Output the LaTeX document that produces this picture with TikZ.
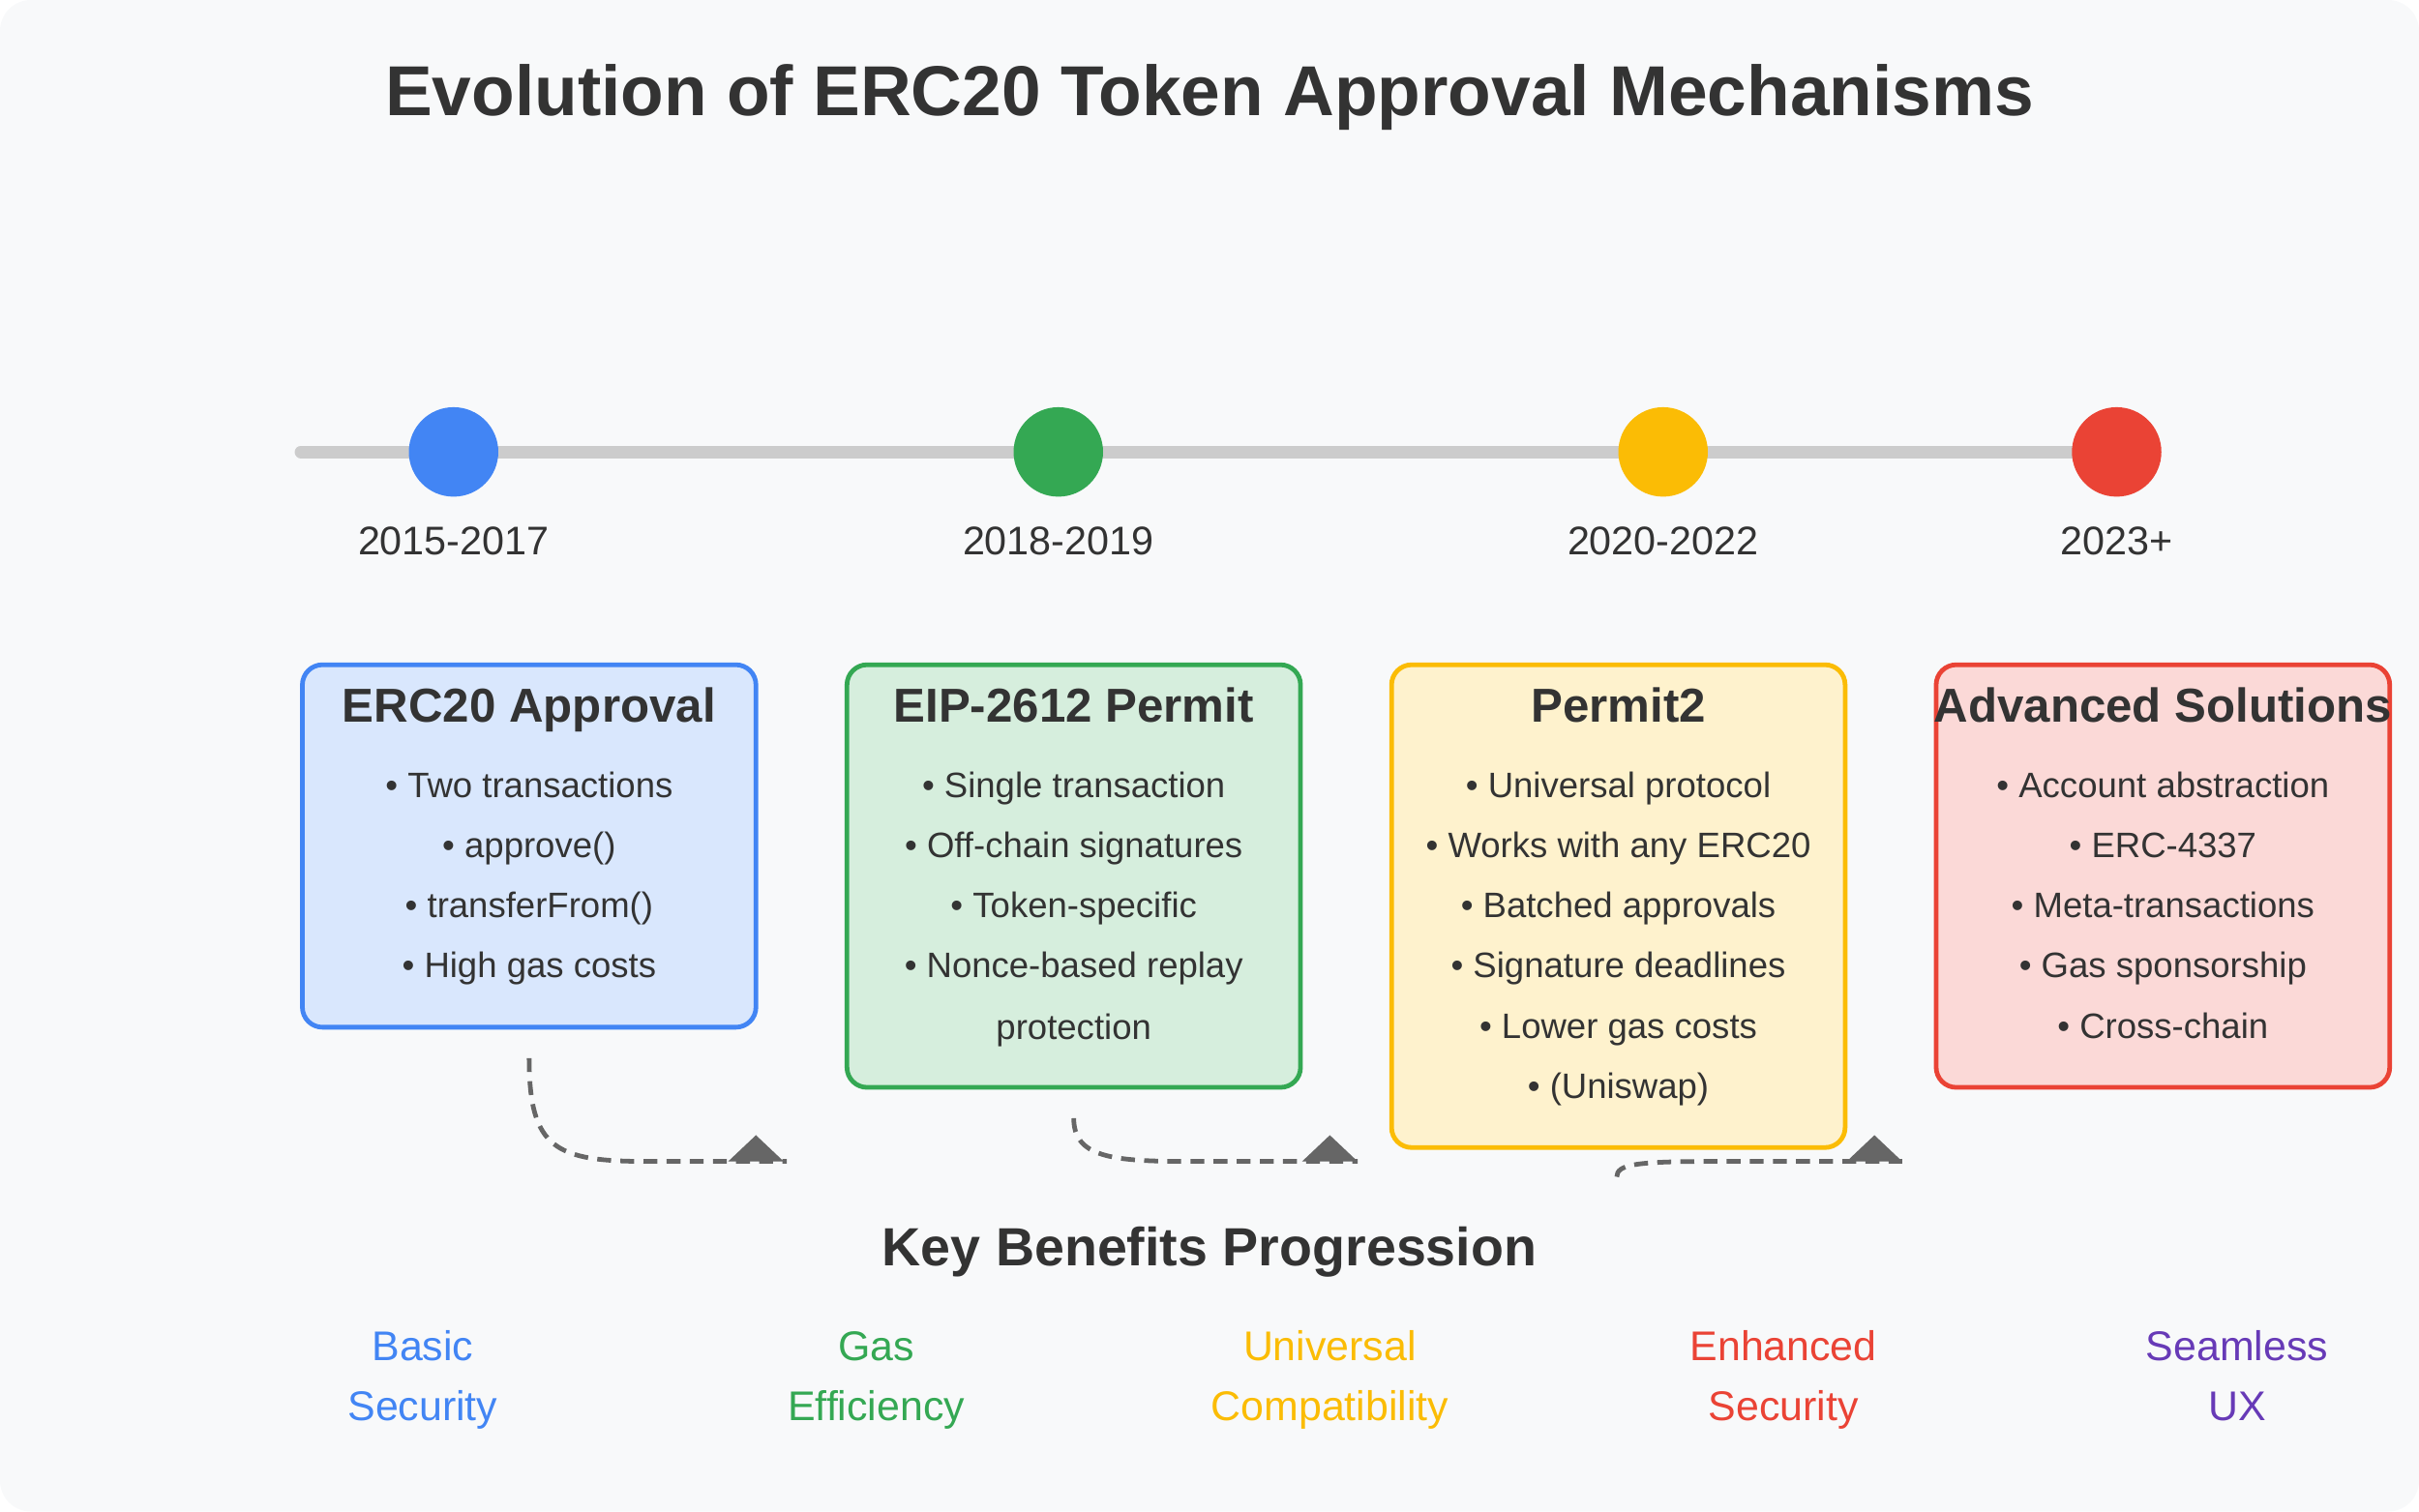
\documentclass[tikz,border=0pt]{standalone}
\usepackage{fontspec}
\setmainfont{Liberation Sans}
\definecolor{bg}{HTML}{F8F9FA}
\definecolor{cb}{HTML}{4285F4}\definecolor{cg}{HTML}{34A853}
\definecolor{cy}{HTML}{FBBC05}\definecolor{cr}{HTML}{EA4335}
\definecolor{cp}{HTML}{673AB7}\definecolor{tx}{HTML}{333333}
\begin{document}
\begin{tikzpicture}[x=1bp,y=-1bp,
 box/.style={draw=#1,line width=3bp,rounded corners=13bp,fill=#1!20!white},
 btitle/.style={font=\fontsize{31}{34}\selectfont\bfseries,text=tx,text height=22bp,text depth=6bp},
 item/.style={font=\fontsize{23}{26}\selectfont,text=tx,text height=17bp,text depth=5bp},
 year/.style={font=\fontsize{26}{29}\selectfont,text=tx,text height=19bp,text depth=5bp},
 ben/.style={font=\fontsize{27}{39}\selectfont,align=center,text=#1,text depth=0pt},
 conn/.style={draw=black!60,line width=3bp,dash pattern=on 9bp off 6bp},
 tip/.style={fill=black!60}]
\fill[bg,rounded corners=20bp] (0,0) rectangle (1568,980);
\useasboundingbox (0,0) rectangle (1568,980);
\node[font=\fontsize{46}{50}\selectfont\bfseries,text=tx] (title) at (784,63) {Evolution of ERC20 Token Approval Mechanisms};
\coordinate (ls) at (195,293); \coordinate (le) at (1372,293);
\draw[black!20,line width=8bp,line cap=round] (ls) -- (le);
\foreach \x/\c/\y/\n in {294/cb/2015-2017/a,686/cg/2018-2019/b,1078/cy/2020-2022/c,1372/cr/2023+/d}{
 \node[circle,fill=\c,minimum size=58bp,inner sep=0] (dot\n) at (\x,293) {};
 \node[year] (yr\n) at (\x,353) {\y};}
\draw[box=cb] (196,431) rectangle (490,666);
\draw[box=cg] (549,431) rectangle (843,705);
\draw[box=cy] (902,431) rectangle (1196,744);
\draw[box=cr] (1255,431) rectangle (1549,705);
\node[btitle] (t1) at (343,460) {ERC20 Approval};
\node[btitle] (t2) at (696,460) {EIP-2612 Permit};
\node[btitle] (t3) at (1049,460) {Permit2};
\node[btitle] (t4) at (1402,460) {Advanced Solutions};
\foreach \s [count=\i] in {Two transactions,approve(),transferFrom(),High gas costs}
 \node[item] (i1\i) at (343,472+39*\i) {• \s};
\foreach \s [count=\i] in {Single transaction,Off-chain signatures,Token-specific,Nonce-based replay}
 \node[item] (i2\i) at (696,472+39*\i) {• \s};
\node[item] (i25) at (696,668) {protection};
\foreach \s [count=\i] in {Universal protocol,Works with any ERC20,Batched approvals,Signature deadlines,Lower gas costs,(Uniswap)}
 \node[item] (i3\i) at (1049,472+39*\i) {• \s};
\foreach \s [count=\i] in {Account abstraction,ERC-4337,Meta-transactions,Gas sponsorship,Cross-chain}
 \node[item] (i4\i) at (1402,472+39*\i) {• \s};
% connectors
\coordinate (a1) at (343,686); \coordinate (a2) at (510,753);
\coordinate (b1) at (696,725); \coordinate (b2) at (880,753);
\coordinate (c1) at (1048,763); \coordinate (c2) at (1233,753);
\draw[conn] (a1) .. controls (343,745) and (360,753) .. (420,753) -- (a2);
\draw[conn] (b1) .. controls (696,750) and (720,753) .. (770,753) -- (b2);
\draw[conn] (c1) .. controls (1048,755) and (1060,753) .. (1110,753) -- (c2);
\fill[tip] (472,753) -- (490,736) -- (508,753) -- cycle;
\fill[tip] (844,753) -- (862,736) -- (880,753) -- cycle;
\fill[tip] (1197,753) -- (1215,736) -- (1233,753) -- cycle;
\node[font=\fontsize{35}{40}\selectfont\bfseries,text=tx] (kb) at (784,812) {Key Benefits Progression};
\foreach \t/\b/\c/\x/\n in {Basic/Security/cb/274/1,Gas/Efficiency/cg/568/2,Universal/Compatibility/cy/862/3,Enhanced/Security/cr/1156/4,Seamless/UX/cp/1450/5}{
 \node[ben=\c,anchor=base] (bt\n) at (\x,882) {\t};
 \node[ben=\c,anchor=base] (bb\n) at (\x,921) {\b};}
\end{tikzpicture}
\end{document}
